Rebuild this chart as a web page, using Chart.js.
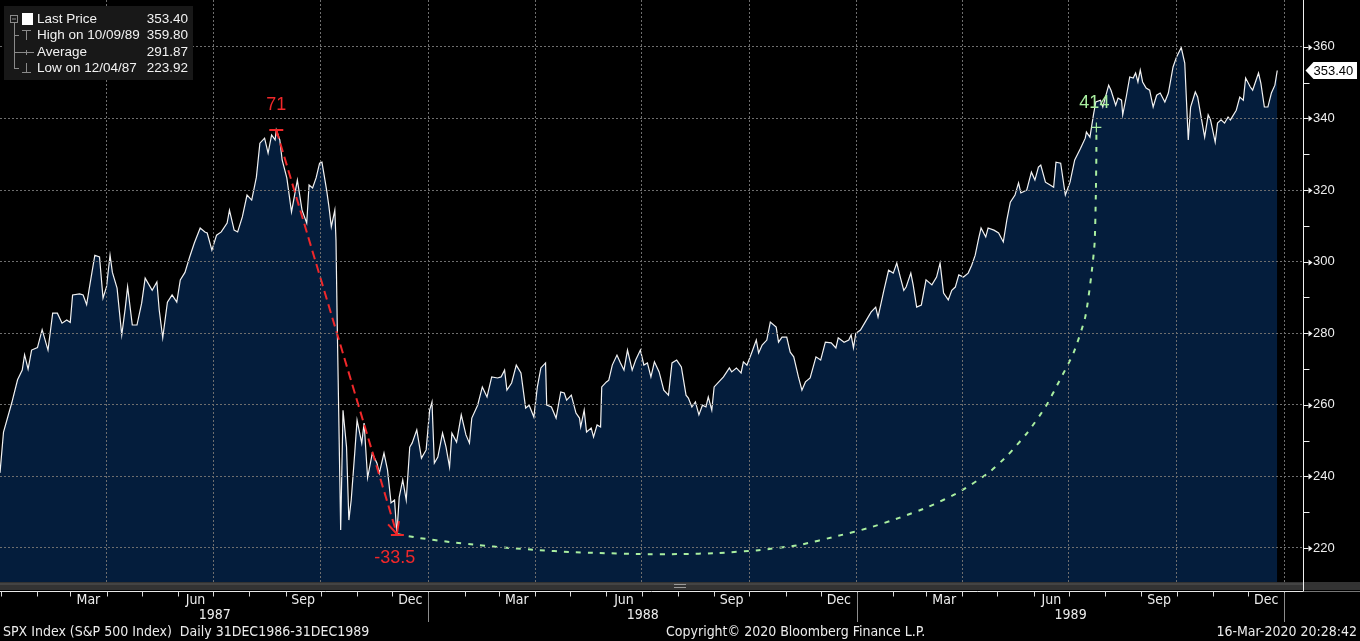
<!DOCTYPE html>
<html><head><meta charset="utf-8">
<script src="https://cdn.jsdelivr.net/npm/chart.js@4.4.1/dist/chart.umd.min.js"></script>
<style>html,body{margin:0;padding:0;background:#000;overflow:hidden}#wrap{position:relative;width:1360px;height:641px}canvas{display:block}</style>
</head><body><div id="wrap"><canvas id="c" width="1360" height="641"></canvas></div>
<script>
// ---- DATA (calendar days since 31 Dec 1986, SPX close) ----
const days = [0,3,10,15,19,21,24,27,32,36,41,45,49,53,57,60,62,68,71,74,77,81,85,88,91,94,96,100,104,107,109,113,117,121,124,130,134,136,139,143,147,151,154,158,162,166,171,175,177,181,185,189,194,196,200,203,207,211,215,219,222,226,229,232,235,236,
239,241,245,249,252,254,258,262,264,267,270,273,275,279,281,283,286,287,288,291,293,296,298,300,303,305,309,311,314,318,322,324,328,331,334,337,339,341,344,347,350,352,356,360,364,367,369,371,374,378,381,384,386,390,394,398,401,403,408,412,416,420,425,428,431,433,437,441,445,449,452,456,459,462,466,
467,471,475,479,482,484,488,492,495,496,499,501,505,507,510,513,514,518,520,523,527,530,533,536,540,543,547,550,553,556,559,563,567,571,574,578,582,586,588,591,594,597,600,603,605,608,610,614,618,623,625,629,633,635,638,642,646,648,651,655,658,663,665,668,672,675,678,682,685,688,692,697,701,705,710,714,716,
721,725,727,729,731,735,739,744,748,750,755,759,763,766,769,772,774,778,780,783,787,791,796,800,803,806,810,813,816,819,823,827,830,833,836,838,842,844,849,853,857,860,863,867,870,872,877,881,884,887,889,893,897,900,902,906,910,914,918,923,927,
928,931,934,936,940,942,947,949,953,955,958,959,962,965,968,970,972,974,976,979,982,985,988,991,995,998,1002,1005,1009,1012,1015,1017,1021,1023,1026,1029,1032,1034,1038,1040,1043,1046,1049,1051,1056,1059,1062,1064,1068,1070,1075,1077,1080,1083,1086,1089,1091];
const closes = [241,252.4,260.5,267,269.7,274,270,275.3,276,281,275.3,285.6,285.6,282.8,283.7,283,290.7,291,290.7,288,294,301.8,301.3,289.8,293,301.8,297,292.6,279.5,287,293,282.3,282.3,288.4,295.4,292,294.3,286.5,278.7,288.7,290.7,288.7,294.9,297,301.3,305.2,309.4,308.3,308,303.2,307.4,308.3,310.8,314.4,308.8,308.3,312.5,318.6,317.2,323.6,333.1,334.5,330.3,335.4,334,336.8,
334,328.4,323.4,313.9,319.2,322.8,314.4,310.8,321.4,320.6,323.4,327.5,327.8,320,315.3,309.7,314.4,306,283.7,225,258.5,248.2,227.8,233.4,246.5,255.7,249.3,254.9,239.6,246.5,243.7,240.9,246.5,241.8,232.6,233.4,223.9,234.2,239,233.4,248.2,249.3,253,245.1,247.4,258.5,260.8,243.7,245.4,252.1,248.2,242.6,252.1,249.6,257.2,251.6,249.3,256.3,259.9,265,262.2,267.8,267.5,267.8,269.7,264.1,266.1,271.1,268.9,259.1,259.9,256.6,265,270.3,271.7,
259.9,259.4,256.3,263.6,263.3,261.3,262.7,257.7,256.3,253.8,258.5,252.4,253.5,251,254.4,253.8,265,266.4,266.9,271.1,273.9,271.7,269.7,275.3,269.7,272.5,275.3,271.1,271.7,267.8,272,269.2,264.1,262.7,271.7,272.5,270.6,262.7,261.9,259.4,260.8,257.2,259.9,259.4,262.2,258.5,265,266.4,267.8,270.3,269.2,270.3,268.9,272,271.1,274.5,278.1,274.5,276.7,278.1,283.1,281.7,277.5,278.9,278.9,274.7,273.4,267.8,264.1,266.4,267.5,273.4,272.5,277.5,277.3,275.9,278.7,
277.5,278.1,279.5,275.9,280,280.9,283.1,285.9,287.3,284.5,292,297.6,296.8,299.6,295.7,292,292.9,296.8,293.5,287.3,287.9,294.9,293.5,295.7,299.6,291.2,289.3,292,292.9,296.3,295.7,296.8,299,301.8,306.6,309.4,306.9,309.4,308.8,308,305.5,311.6,316.6,318.6,322,319.2,320,325,322.8,326.4,327,322.2,321.4,320.8,327.8,327.5,318.6,322.2,328.4,331.7,334.5,
336.2,334.8,341,344.6,345.1,343.2,349.3,347.9,343.7,345.7,345.1,341,346,351.6,351.3,352.7,350.2,353.5,350.2,348.5,347.9,343.2,346.5,347.1,344.6,347.1,354.4,357.2,359.8,355.5,334,343.2,347.4,346,340.4,334.8,341,339.6,333.4,338.7,339.6,338.7,340.4,339.6,342.3,346,345.1,351.3,348.8,347.9,352.7,349.9,343.2,343.2,347.1,349.3,353.4];

// peak-to-trough annotation (high 25 Aug 87 -> low 04 Dec 87)
const drawdownDays = [236, 339];
const drawdownValues = [336.8, 223.9];
const drawdownDaysLabel = '71';
const drawdownPctLabel = '-33.5';
// recovery arc annotation
const recoveryDays = [339,358,384,409,435,461,486,512,546,580,614,648,682,716,742,768,793,819,844,861,878,893,904,917,927,932,935,936,936.5,936.5];
const recoveryValues = [223.9,222.8,221.7,220.8,220,219.4,218.9,218.6,218.3,218.3,218.6,219.4,220.8,223.4,225.6,228.4,231.5,235.6,240.9,246,252.4,259.4,266.1,274.5,284.5,295.7,305.2,318,330,337.5];
const recoveryLabel = '414';

const yTickValues = [220,230,240,250,260,270,280,290,300,310,320,330,340,350,360];
const monthNames = ['Jan','Feb','Mar','Apr','May','Jun','Jul','Aug','Sep','Oct','Nov','Dec'];
const labelledMonths = [2,5,8,11];
const years = [1987,1988,1989];
const legendLabels = ['Last Price','High on 10/09/89','Average','Low on 12/04/87'];
const legendValues = ['353.40','359.80','291.87','223.92'];
const lastPrice = 353.40;
const footerLeft = 'SPX Index (S&P 500 Index)  Daily 31DEC1986-31DEC1989';
const footerMid = 'Copyright\u00A9 2020 Bloomberg Finance L.P.';
const footerRight = '16-Mar-2020 20:28:42';

// ---- calendar helpers ----
const baseUTC = Date.UTC(1986,11,31);
const dayOf = (y,m,d) => (Date.UTC(y,m,d) - baseUTC) / 86400000;
const monthStarts = [];
years.forEach(y => { for (let m = 0; m < 12; m++) monthStarts.push(dayOf(y,m,1)); });
monthStarts.push(dayOf(1990,0,1));
const quarterStarts = monthStarts.filter((d,i) => i > 0 && i % 3 === 0);

const FONT = "'Liberation Sans', Arial, sans-serif";
const NARROW = "'Liberation Sans Narrow', 'DejaVu Sans Condensed', 'Arial Narrow', sans-serif";
const RED = '#f0282a';
const GREEN = '#a9eea0';

const bbPlugin = {
  id: 'bb',
  beforeDraw(chart) {
    const ctx = chart.ctx;
    ctx.save(); ctx.fillStyle = '#000'; ctx.fillRect(0,0,chart.width,chart.height); ctx.restore();
  },
  afterDraw(chart) {
    const ctx = chart.ctx, a = chart.chartArea, xs = chart.scales.x, ys = chart.scales.y;
    const X = v => xs.getPixelForValue(v), Y = v => ys.getPixelForValue(v);
    ctx.save();
    // scroll band
    ctx.fillStyle = '#333'; ctx.fillRect(0, a.bottom, chart.width, 8);
    ctx.fillStyle = '#444'; ctx.fillRect(0, a.bottom + 1, a.right, 2);
    ctx.strokeStyle = '#9a9a9a'; ctx.lineWidth = 1;
    ctx.beginPath(); ctx.moveTo(674, a.bottom + 2.5); ctx.lineTo(686, a.bottom + 2.5);
    ctx.moveTo(674, a.bottom + 5.5); ctx.lineTo(686, a.bottom + 5.5); ctx.stroke();
    // x axis line
    const y0 = a.bottom + 9.5;
    ctx.strokeStyle = '#e8e8e8'; ctx.beginPath(); ctx.moveTo(0, y0); ctx.lineTo(a.right, y0); ctx.stroke();
    ctx.strokeStyle = '#777'; ctx.beginPath(); ctx.moveTo(a.right, y0); ctx.lineTo(chart.width, y0); ctx.stroke();
    // month ticks
    ctx.strokeStyle = '#d8d8d8'; ctx.beginPath();
    monthStarts.forEach(d => { const x = Math.round(X(d)) + 0.5; ctx.moveTo(x, y0); ctx.lineTo(x, y0 + 5); });
    ctx.stroke();
    // month labels
    ctx.fillStyle = '#ececec'; ctx.font = '14px ' + NARROW; ctx.textAlign = 'center'; ctx.textBaseline = 'middle';
    years.forEach(y => labelledMonths.forEach(m => {
      const mid = (dayOf(y,m,1) + dayOf(y,m+1,1)) / 2;
      ctx.fillText(monthNames[m], X(mid), 600);
    }));
    // year labels and separators
    years.forEach(y => {
      ctx.fillText(String(y), X((dayOf(y,0,1) + dayOf(y+1,0,1)) / 2), 615);
    });
    ctx.strokeStyle = '#8c8c8c'; ctx.beginPath();
    [dayOf(1988,0,1), dayOf(1989,0,1), dayOf(1990,0,1)].forEach(d => {
      const x = Math.round(X(d)) + 0.5; ctx.moveTo(x, y0 + 1); ctx.lineTo(x, 622);
    });
    ctx.stroke();
    // footer
    ctx.textAlign = 'left'; ctx.fillText(footerLeft, 3, 632);
    ctx.fillText(footerMid, 666, 632);
    ctx.textAlign = 'right'; ctx.fillText(footerRight, 1357, 632);
    // right axis
    const xr = Math.round(a.right) + 0.5;
    ctx.strokeStyle = '#f0f0f0'; ctx.beginPath(); ctx.moveTo(xr, 0); ctx.lineTo(xr, y0); ctx.stroke();
    ctx.fillStyle = '#f0f0f0';
    yTickValues.forEach(v => {
      const y = Math.round(Y(v)) + 0.5;
      ctx.beginPath();
      if (v % 20 === 0) {
        ctx.moveTo(xr, y); ctx.lineTo(xr + 5, y); ctx.stroke();
        ctx.beginPath(); ctx.moveTo(xr + 5, y - 3); ctx.lineTo(xr + 9, y); ctx.lineTo(xr + 5, y + 3); ctx.closePath(); ctx.fill();
      } else { ctx.moveTo(xr, y); ctx.lineTo(xr + 6, y); ctx.stroke(); }
    });
    // last price tag
    const yl = Y(lastPrice);
    ctx.fillStyle = '#fff'; ctx.beginPath();
    ctx.moveTo(xr + 2, yl); ctx.lineTo(xr + 10, yl - 8.5); ctx.lineTo(1357, yl - 8.5); ctx.lineTo(1357, yl + 8.5); ctx.lineTo(xr + 10, yl + 8.5); ctx.closePath(); ctx.fill();
    ctx.fillStyle = '#000'; ctx.font = '13px ' + FONT; ctx.textAlign = 'left'; ctx.textBaseline = 'middle';
    ctx.fillText(lastPrice.toFixed(2), xr + 10, yl + 0.5);
    // drawdown markers
    const px = X(drawdownDays[0]), py = Y(drawdownValues[0]);
    const tx = X(drawdownDays[1]), ty = Y(drawdownValues[1]);
    ctx.strokeStyle = RED; ctx.lineWidth = 2;
    ctx.beginPath(); ctx.moveTo(px - 7, py); ctx.lineTo(px + 7, py); ctx.moveTo(px, py); ctx.lineTo(px + 1, py + 6); ctx.stroke();
    const ang = Math.atan2(ty - py, tx - px);
    ctx.beginPath();
    ctx.moveTo(tx - 13 * Math.cos(ang - 0.45), ty - 13 * Math.sin(ang - 0.45)); ctx.lineTo(tx, ty);
    ctx.lineTo(tx - 13 * Math.cos(ang + 0.45), ty - 13 * Math.sin(ang + 0.45));
    ctx.moveTo(tx - 6, ty + 1); ctx.lineTo(tx + 7, ty + 1);
    ctx.stroke();
    ctx.fillStyle = RED; ctx.font = '18px ' + FONT; ctx.textAlign = 'center'; ctx.textBaseline = 'middle';
    ctx.fillText(drawdownDaysLabel, px, py - 25);
    ctx.fillText(drawdownPctLabel, tx - 2, ty + 24);
    // recovery marker
    const gx = X(recoveryDays[recoveryDays.length - 1]), gy = Y(recoveryValues[recoveryValues.length - 1]);
    ctx.strokeStyle = GREEN; ctx.lineWidth = 1.2;
    ctx.beginPath(); ctx.moveTo(gx - 5, gy); ctx.lineTo(gx + 5, gy); ctx.moveTo(gx, gy - 5); ctx.lineTo(gx, gy + 5); ctx.stroke();
    ctx.fillStyle = GREEN; ctx.font = '18px ' + FONT;
    ctx.fillText(recoveryLabel, gx - 2, gy - 24);
    // legend box
    ctx.fillStyle = '#181818'; ctx.fillRect(4, 6, 189, 74);
    const rows = [19, 35, 52, 68];
    ctx.fillStyle = '#f2f2f2'; ctx.font = '13.5px ' + FONT; ctx.textBaseline = 'middle';
    legendLabels.forEach((t, i) => {
      ctx.textAlign = 'left'; ctx.fillText(t, 37, rows[i] + 0.5);
      ctx.textAlign = 'right'; ctx.fillText(legendValues[i], 188, rows[i] + 0.5);
    });
    ctx.fillStyle = '#fff'; ctx.fillRect(22, 13, 11, 12);
    ctx.strokeStyle = '#8a8a8a'; ctx.lineWidth = 1;
    ctx.strokeRect(10.5, 15.5, 7, 7);
    ctx.beginPath();
    ctx.moveTo(12, 19); ctx.lineTo(16, 19);
    ctx.moveTo(14.5, 23); ctx.lineTo(14.5, 68.5);
    ctx.moveTo(14, 35.5); ctx.lineTo(19, 35.5);
    ctx.moveTo(14, 52.5); ctx.lineTo(19, 52.5);
    ctx.moveTo(14, 68.5); ctx.lineTo(19, 68.5);
    // high icon
    ctx.moveTo(22, 30.5); ctx.lineTo(31, 30.5); ctx.moveTo(26.5, 30.5); ctx.lineTo(26.5, 40);
    // average icon
    ctx.moveTo(19, 52.5); ctx.lineTo(34, 52.5); ctx.moveTo(26.5, 50); ctx.lineTo(26.5, 55);
    // low icon
    ctx.moveTo(26.5, 63); ctx.lineTo(26.5, 72.5); ctx.moveTo(22, 72.5); ctx.lineTo(31, 72.5);
    ctx.stroke();
    ctx.restore();
  }
};

const priceData = days.map((d, i) => ({x: d, y: closes[i]}));
const drawdownData = drawdownDays.map((d, i) => ({x: d, y: drawdownValues[i]}));
const recoveryData = recoveryDays.map((d, i) => ({x: d, y: recoveryValues[i]}));

new Chart(document.getElementById('c'), {
  type: 'line',
  data: { datasets: [
    { data: drawdownData, borderColor: RED, borderWidth: 2, borderDash: [9,5], pointRadius: 0, fill: false, order: 1 },
    { data: recoveryData, borderColor: GREEN, borderWidth: 2, borderDash: [5,7], pointRadius: 0, fill: false, tension: 0.2, order: 2 },
    { data: priceData, borderColor: '#f2f2f2', borderWidth: 1.2, backgroundColor: '#041d3c', fill: 'start', pointRadius: 0, tension: 0, order: 3 }
  ]},
  options: {
    responsive: false, animation: false, events: [],
    layout: { padding: 0 },
    plugins: { legend: { display: false }, tooltip: { enabled: false } },
    scales: {
      x: {
        type: 'linear', position: 'bottom', min: 0, max: 1113,
        afterBuildTicks: s => { s.ticks = quarterStarts.map(v => ({value: v})); },
        afterFit: s => { s.height = 59; s.paddingLeft = 0; s.paddingRight = 0; },
        ticks: { display: false },
        grid: { color: '#6e6e6e', lineWidth: 1, drawTicks: false, z: 1 },
        border: { display: false, dash: [2,2] }
      },
      y: {
        type: 'linear', position: 'right', min: 210.5, max: 373.1,
        afterBuildTicks: s => { s.ticks = yTickValues.map(v => ({value: v})); },
        afterFit: s => { s.width = 57; s.paddingTop = 0; s.paddingBottom = 0; },
        ticks: { color: '#eeeeee', padding: 10, font: { family: "'Liberation Sans', Arial, sans-serif", size: 13 },
                 callback: v => (v % 20 === 0 ? String(v) : '') },
        grid: { color: c => (c.tick && c.tick.value % 20 === 0 ? '#6e6e6e' : 'rgba(0,0,0,0)'), drawTicks: false, z: 1 },
        border: { display: false, dash: [2,2] }
      }
    }
  },
  plugins: [bbPlugin]
});
</script>
</body></html>
